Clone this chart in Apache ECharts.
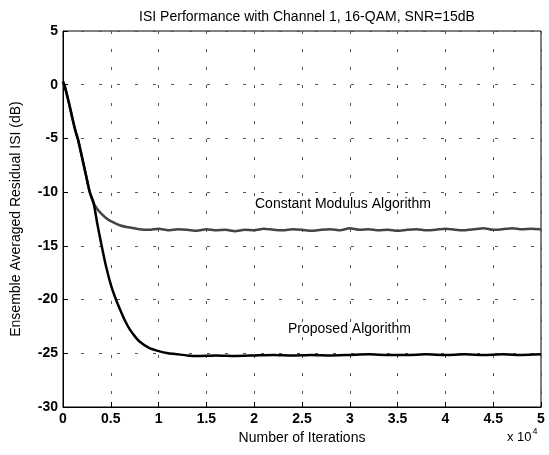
<!DOCTYPE html>
<html>
<head>
<meta charset="utf-8">
<script src="https://cdn.jsdelivr.net/npm/echarts@6/dist/echarts.min.js"></script>
<style>
  html, body { margin: 0; padding: 0; background: #fff; }
  #main { width: 549px; height: 455px; }
</style>
</head>
<body>
<div id="main"></div>
<script>
// iterations in units of 1e4
var cmaIter = [0, 0.02, 0.04, 0.07, 0.1, 0.13, 0.16, 0.2, 0.24, 0.28, 0.32,
    0.36, 0.4, 0.45, 0.5, 0.6, 0.7, 0.8,
    0.9, 1.0, 1.1, 1.2, 1.3, 1.4, 1.5, 1.6, 1.7, 1.8, 1.9, 2.0, 2.1, 2.2, 2.3, 2.4, 2.5,
    2.6, 2.7, 2.8, 2.9, 3.0, 3.1, 3.2, 3.3, 3.4, 3.5, 3.6, 3.7, 3.8, 3.9, 4.0, 4.1, 4.2,
    4.3, 4.4, 4.5, 4.6, 4.7, 4.8, 4.9, 5.0];
var cmaIsi = [0.3, -0.2, -0.9, -2.0, -3.2, -4.3, -5.2, -6.8, -8.4, -10.0, -11.0,
    -11.6, -12.0, -12.4, -12.7, -13.1, -13.3, -13.45,
    -13.5, -13.4, -13.55, -13.45, -13.5, -13.6, -13.45, -13.55, -13.5, -13.65, -13.5, -13.55, -13.4, -13.5, -13.55, -13.45, -13.5,
    -13.6, -13.5, -13.45, -13.55, -13.35, -13.5, -13.45, -13.55, -13.5, -13.6, -13.5, -13.45, -13.55, -13.5, -13.4, -13.5, -13.55,
    -13.45, -13.35, -13.5, -13.45, -13.35, -13.45, -13.4, -13.45];

var propIter = [0, 0.02, 0.04, 0.07, 0.1, 0.13, 0.16, 0.2, 0.24, 0.28, 0.32,
    0.36, 0.4, 0.45, 0.5, 0.55, 0.6, 0.65, 0.7, 0.75, 0.8, 0.9, 1.0, 1.1, 1.2, 1.3,
    1.4, 1.6, 1.8, 2.0, 2.2, 2.4, 2.6, 2.8, 3.0, 3.2, 3.4, 3.6, 3.8, 4.0, 4.2, 4.4, 4.6, 4.8, 5.0];
var propIsi = [0.3, -0.2, -0.9, -2.0, -3.2, -4.3, -5.2, -6.8, -8.4, -10.0, -11.0,
    -13.0, -14.8, -16.9, -18.6, -19.9, -21.0, -22.0, -22.8, -23.4, -23.9, -24.5, -24.8, -25.0, -25.1, -25.2,
    -25.25, -25.2, -25.25, -25.2, -25.15, -25.2, -25.15, -25.2, -25.15, -25.1, -25.15, -25.15, -25.1, -25.15, -25.1, -25.15, -25.1, -25.15, -25.1];

var xTicks = [0, 0.5, 1, 1.5, 2, 2.5, 3, 3.5, 4, 4.5, 5];
var yTicks = [-30, -25, -20, -15, -10, -5, 0, 5];

function pairs(xs, ys) {
    var out = [];
    for (var i = 0; i < xs.length; i++) out.push([xs[i], ys[i]]);
    return out;
}

var font = 'Liberation Sans, Arial, sans-serif';
var gridDash = { color: '#555', width: 1, type: [3, 15] };

var myChart = echarts.init(document.getElementById('main'));
myChart.setOption({
    animation: false,
    title: {
        text: 'ISI Performance with Channel 1, 16-QAM, SNR=15dB',
        left: 302, top: 5, textAlign: 'center',
        textStyle: { fontFamily: font, fontSize: 14, fontWeight: 'normal', color: '#000' }
    },
    grid: { left: 63, right: 8, top: 31, bottom: 48, show: true, borderColor: '#000', borderWidth: 1, backgroundColor: 'transparent' },
    xAxis: {
        type: 'value', min: xTicks[0], max: xTicks[xTicks.length - 1], interval: 0.5,
        name: 'Number of Iterations', nameLocation: 'middle', nameGap: 22,
        nameTextStyle: { fontFamily: font, fontSize: 14, color: '#000' },
        axisLine: { onZero: false, lineStyle: { color: '#000' } },
        axisTick: { inside: true, length: 5, lineStyle: { color: '#000' } },
        axisLabel: { fontFamily: font, fontSize: 14, fontWeight: 'bold', color: '#000', margin: 5 },
        splitLine: { show: true, lineStyle: gridDash }
    },
    yAxis: {
        type: 'value', min: yTicks[0], max: yTicks[yTicks.length - 1], interval: 5,
        name: 'Ensemble Averaged Residual ISI (dB)', nameLocation: 'middle', nameGap: 40,
        nameTextStyle: { fontFamily: font, fontSize: 14, color: '#000' },
        axisLine: { onZero: false, lineStyle: { color: '#000' } },
        axisTick: { inside: true, length: 5, lineStyle: { color: '#000' } },
        axisLabel: { fontFamily: font, fontSize: 14, fontWeight: 'bold', color: '#000', margin: 5 },
        splitLine: { show: true, lineStyle: gridDash }
    },
    graphic: [
        { type: 'text', left: 255, top: 197, style: { text: 'Constant Modulus Algorithm', font: '14px ' + font, fill: '#000' } },
        { type: 'text', left: 288, top: 322, style: { text: 'Proposed Algorithm', font: '14px ' + font, fill: '#000' } },
        { type: 'text', left: 507, top: 427, style: {
            text: '{b|x 10}{s|4}', fill: '#000',
            rich: {
                b: { fontFamily: font, fontSize: 13, fill: '#000', verticalAlign: 'bottom' },
                s: { fontFamily: font, fontSize: 9, fill: '#000', verticalAlign: 'top', padding: [0, 0, 8, 1] }
            }
        } }
    ],
    series: [
        {
            name: 'Constant Modulus Algorithm', type: 'line', showSymbol: false,
            data: pairs(cmaIter, cmaIsi), smooth: 0.2,
            lineStyle: { color: '#444', width: 2.5 }, z: 3
        },
        {
            name: 'Proposed Algorithm', type: 'line', showSymbol: false,
            data: pairs(propIter, propIsi), smooth: 0.2,
            lineStyle: { color: '#000', width: 2.5 }, z: 4
        }
    ]
});
</script>
</body>
</html>
